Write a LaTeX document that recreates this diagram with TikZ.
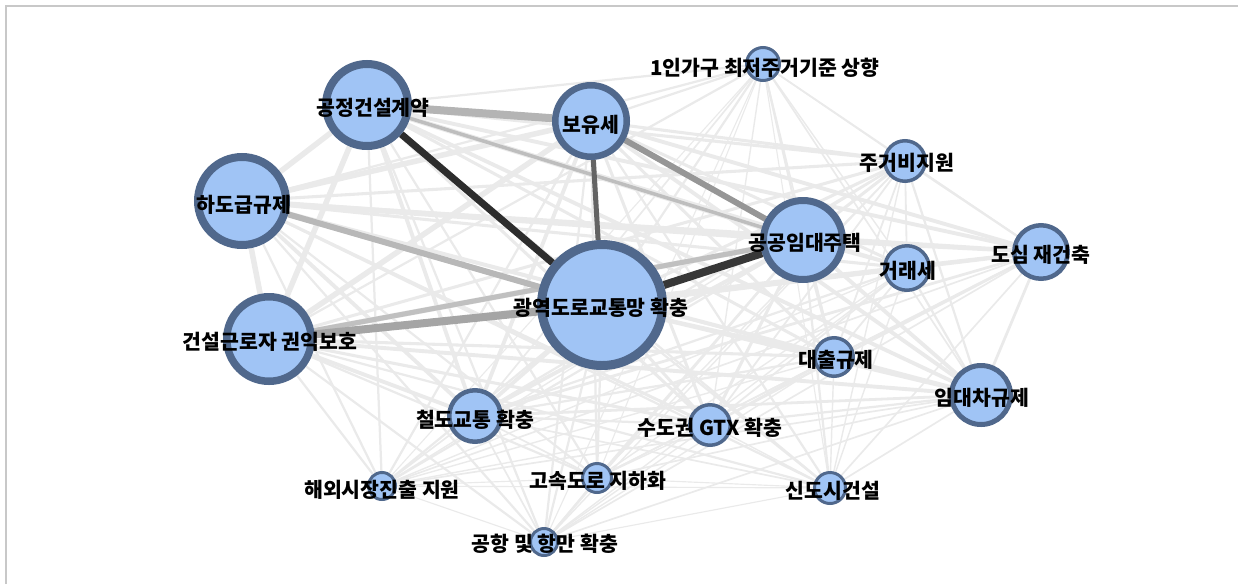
\documentclass[tikz,border=0pt]{standalone}
\usepackage{fontspec}
\newfontfamily\kr{Noto Sans CJK KR}
\pgfdeclarelayer{bg}
\pgfsetlayers{bg,main}
\definecolor{nfill}{RGB}{160,196,245}
\definecolor{nline}{RGB}{80,104,140}
\definecolor{elight}{RGB}{234,234,234}
\definecolor{framec}{RGB}{200,200,200}
\tikzset{
  nd/.style 2 args={circle, fill=nfill, draw=nline, line width=#2, minimum size=#1, inner sep=0pt},
  lbl/.style={font=\kr\bfseries\fontsize{20.5}{20.5}\selectfont, text=black, inner sep=0pt},
  light/.style={draw=elight, line cap=butt},
  heavy/.style={line cap=butt},
}
\newcommand\mknode[8]{%
  \pgfmathsetmacro\dia{2*#4-#5}%
  \node[nd={\dia pt}{#5pt}] (#1) at (#2,#3) {};
  \node[lbl] (#1t) at #6 {#7};
}
\def\nlist{kc/3,by/3,p1/1,jg/1.5,hd/3,gg/3,gr/1.5,ds/2,gw/3,gs/3,dc/1.5,id/2,cd/2,gtx/1.5,hw/1,gsd/1,sd/1,gh/1}
\begin{document}
\begin{tikzpicture}[x=1pt,y=-1pt]
\useasboundingbox (0,0) rectangle (1238,584);
\coordinate (fa) at (6,584);
\coordinate (fb) at (6,6);
\coordinate (fc) at (1238,6);
\draw[framec, line width=1.5pt] (fa) -- (fb) -- (fc);
% nodes
\mknode{kc}{367}{105}{45}{8}{(373,108)}{공정건설계약}{}
\mknode{by}{591}{121}{39}{6.5}{(591,125)}{보유세}{}
\mknode{p1}{763}{64}{18}{3}{(765,68)}{1인가구 최저주거기준 상향}{}
\mknode{jg}{905}{161}{22}{3.5}{(907,163)}{주거비지원}{}
\mknode{hd}{242}{201}{48}{8}{(244,205)}{하도급규제}{}
\mknode{gg}{803}{240}{43}{7}{(805,243)}{공공임대주택}{}
\mknode{gr}{907}{268}{24}{3.5}{(908,271)}{거래세}{}
\mknode{ds}{1041}{252}{29}{4.5}{(1041,255)}{도심 재건축}{}
\mknode{gw}{602}{305}{65}{9}{(601,308)}{광역도로교통망 확충}{}
\mknode{gs}{269}{339}{46}{7.5}{(270,342)}{건설근로자 권익보호}{}
\mknode{dc}{834}{357}{21}{3.5}{(836,360)}{대출규제}{}
\mknode{id}{981}{395}{32}{5}{(982,398)}{임대차규제}{}
\mknode{cd}{475}{416}{28}{4.5}{(475,420)}{철도교통 확충}{}
\mknode{gtx}{710}{425}{22}{3.5}{(710,428)}{수도권 GTX 확충}{}
\mknode{hw}{382}{486}{15}{3}{(382,490)}{해외시장진출 지원}{}
\mknode{gsd}{597}{478}{16}{3}{(598,481)}{고속도로 지하화}{}
\mknode{sd}{830}{488}{17}{3}{(833,491)}{신도시건설}{}
\mknode{gh}{544}{542}{15}{3}{(545,544)}{공항 및 항만 확충}{}
% edges
\begin{pgfonlayer}{bg}
\foreach \a/\wa [count=\i] in \nlist {
  \foreach \b/\wb [count=\j] in \nlist {
    \ifnum\j>\i
      \pgfmathsetmacro\lw{0.6+0.55*\wa*\wb}
      \draw[light, line width=\lw pt] (\a) -- (\b);
    \fi
  }
}
\draw[heavy, draw={rgb,255:red,190;green,190;blue,190}, line width=3.5pt] (kc) -- (gg);
\draw[heavy, draw={rgb,255:red,192;green,192;blue,192}, line width=5pt] (gs) -- (gg);
\draw[heavy, draw={rgb,255:red,180;green,180;blue,180}, line width=8pt] (kc) -- (by);
\draw[heavy, draw={rgb,255:red,184;green,184;blue,184}, line width=6pt] (hd) -- (gw);
\draw[heavy, draw={rgb,255:red,165;green,165;blue,165}, line width=8pt] (gs) -- (gw);
\draw[heavy, draw={rgb,255:red,150;green,150;blue,150}, line width=6pt] (by) -- (gg);
\draw[heavy, draw={rgb,255:red,100;green,100;blue,100}, line width=5pt] (by) -- (gw);
\draw[heavy, draw={rgb,255:red,55;green,55;blue,55}, line width=8pt] (gw) -- (gg);
\draw[heavy, draw={rgb,255:red,45;green,45;blue,45}, line width=7pt] (kc) -- (gw);
\end{pgfonlayer}
\end{tikzpicture}
\end{document}
